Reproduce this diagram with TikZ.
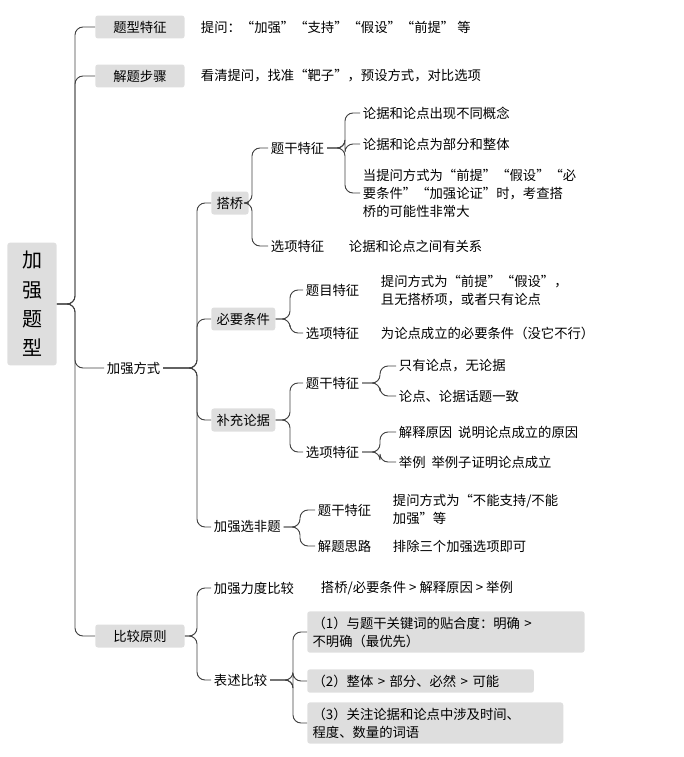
\documentclass[tikz,border=0pt]{standalone}
\usepackage{fontspec}
\newfontfamily\cjk{Noto Sans CJK SC}
\begin{document}
\begin{tikzpicture}[x=0.75pt,y=-0.75pt,
  every node/.style={font=\cjk\fontsize{10}{13.5}\selectfont,inner sep=2pt,anchor=west},
  box/.style={fill=black!13,rounded corners=2pt,inner xsep=4pt,inner ysep=4pt},
  br/.style={draw=black!75,line width=0.7pt,rounded corners=6pt}]
\useasboundingbox (0,0) rectangle (683,757);
\node[box,anchor=center,align=center,font=\cjk\fontsize{15}{22}\selectfont,minimum width=37pt,minimum height=92pt] (root) at (32,304) {加\\强\\题\\型};
\node[box,minimum width=67pt] (a1) at (95,27) {题型特征};
\node (a1t) at (198,27) {提问：“加强”“支持”“假设”“前提” 等};
\node[box,minimum width=67pt] (a2) at (95,76) {解题步骤};
\node (a2t) at (198,76) {看清提问，找准“靶子”，预设方式，对比选项};
\node (a3) at (104,368) {加强方式};
\node[box,minimum width=67pt] (a4) at (95,636) {比较原则};
\foreach \c in {a1,a2,a3,a4} \draw[br] (root.east) -- (75,304) |- (\c.west);
% 加强方式
\node[box] (b1) at (211,203) {搭桥};
\node[box] (b2) at (211,319) {必要条件};
\node[box] (b3) at (211,420) {补充论据};
\node (b4) at (211,527) {加强选非题};
\foreach \c in {b1,b2,b3,b4} \draw[br] (a3.east) -- (197,368) |- (\c.west);
% 搭桥
\node (c1) at (268,148) {题干特征};
\node (c2) at (268,246) {选项特征};
\node (c2t) at (346,246) {论据和论点之间有关系};
\foreach \c in {c1,c2} \draw[br] (b1.east) -- (252,203) |- (\c.west);
\node (d1) at (360,113) {论据和论点出现不同概念};
\node (d2) at (360,144) {论据和论点为部分和整体};
\node[align=left] (d3) at (360,193) {当提问方式为“前提”“假设”“必\\要条件”“加强论证”时，考查搭\\桥的可能性非常大};
\foreach \c in {d1,d2,d3} \draw[br] (c1.east) -- (345,148) |- (\c.west);
% 必要条件
\node (e1) at (303,290) {题目特征};
\node[align=left] (e1t) at (378,291) {提问方式为“前提”“假设”，\\且无搭桥项，或者只有论点};
\node (e2) at (303,333) {选项特征};
\node (e2t) at (378,333) {为论点成立的必要条件（没它不行）};
\foreach \c in {e1,e2} \draw[br] (b2.east) -- (290,319) |- (\c.west);
% 补充论据
\node (f1) at (303,383) {题干特征};
\node (f2) at (303,452) {选项特征};
\foreach \c in {f1,f2} \draw[br] (b3.east) -- (290,420) |- (\c.west);
\node (g1) at (396,366) {只有论点，无论据};
\node (g2) at (396,396) {论点、论据话题一致};
\foreach \c in {g1,g2} \draw[br] (f1.east) -- (380,383) |- (\c.west);
\node (h1) at (396,432) {解释原因\ \ 说明论点成立的原因};
\node (h2) at (396,462) {举例\ \ 举例子证明论点成立};
\foreach \c in {h1,h2} \draw[br] (f2.east) -- (380,452) |- (\c.west);
% 加强选非题
\node (i1) at (315,510) {题干特征};
\node[align=left] (i1t) at (390,509) {提问方式为“不能支持/不能\\加强”等};
\node (i2) at (315,546) {解题思路};
\node (i2t) at (390,546) {排除三个加强选项即可};
\foreach \c in {i1,i2} \draw[br] (b4.east) -- (300,527) |- (\c.west);
% 比较原则
\node (j1) at (211,588) {加强力度比较};
\node (j1t) at (318,588) {搭桥/必要条件 > 解释原因 > 举例};
\node (j2) at (211,680) {表述比较};
\foreach \c in {j1,j2} \draw[br] (a4.east) -- (197,636) |- (\c.west);
\node[box,align=left,text width=200pt] (k1) at (307,632) {（1）与题干关键词的贴合度：明确 >\\不明确（最优先）};
\node[box,align=left,text width=162pt] (k2) at (307,681) {（2）整体 > 部分、必然 > 可能};
\node[box,align=left,text width=184pt] (k3) at (307,723) {（3）关注论据和论点中涉及时间、\\程度、数量的词语};
\foreach \c in {k1,k2,k3} \draw[br] (j2.east) -- (293,680) |- (\c.west);
\end{tikzpicture}
\end{document}
